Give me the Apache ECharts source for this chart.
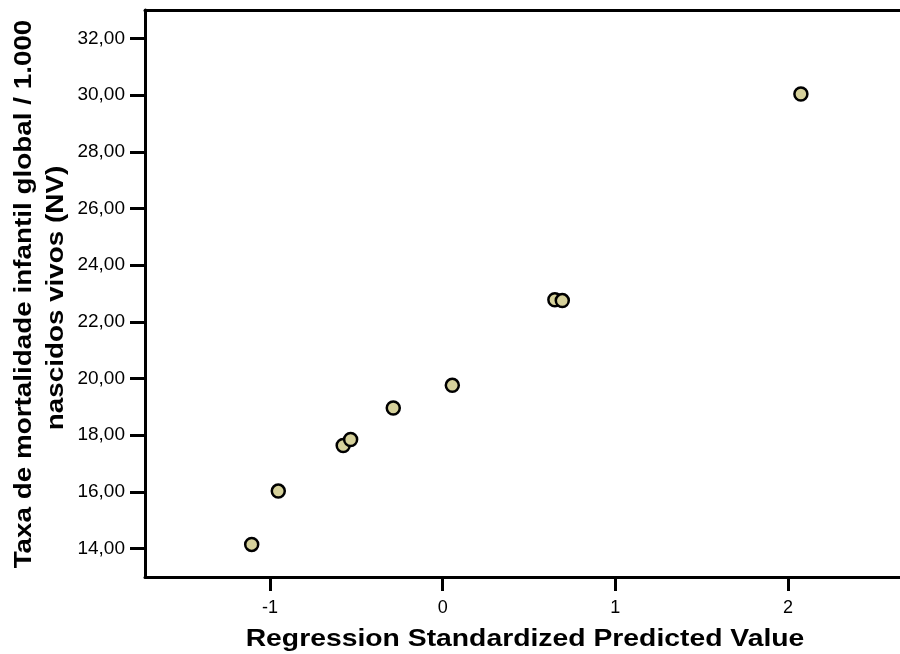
<!DOCTYPE html>
<html>
<head>
<meta charset="utf-8">
<script src="https://cdn.jsdelivr.net/npm/echarts@6/dist/echarts.min.js"></script>
<style>
  html, body { margin: 0; padding: 0; background: #fff; }
  #chart { width: 900px; height: 654px; }
</style>
</head>
<body>
<div id="chart"></div>
<script>
// predicted (standardized) vs observed mortality rate
var predicted = [-1.106, -0.952, -0.576, -0.533, -0.286, 0.056, 0.650, 0.693, 2.075];
var observed = [14.15, 16.03, 17.64, 17.85, 18.96, 19.76, 22.78, 22.75, 30.04];
var xTicks = [-1, 0, 1, 2];
var yTicks = [14, 16, 18, 20, 22, 24, 26, 28, 30, 32];
var xTitle = 'Regression Standardized Predicted Value';
var yTitle1 = 'Taxa de mortalidade infantil global / 1.000';
var yTitle2 = 'nascidos vivos (NV)';

var points = [];
for (var i = 0; i < predicted.length; i++) {
  points.push([predicted[i], observed[i]]);
}

var chart = echarts.init(document.getElementById('chart'));
var font = 'Liberation Sans, Arial, sans-serif';
var titleFont = 'bold 24px Liberation Sans, Arial, sans-serif';
var black = { color: '#000', width: 3 };

chart.setOption({
  animation: false,
  grid: { left: 145, top: 10, right: 0, bottom: 77 },
  xAxis: [{
    type: 'value',
    min: -1.724, max: 2.649,
    splitLine: { show: false },
    axisLine: { onZero: false, lineStyle: black },
    axisTick: { customValues: xTicks, length: 14, lineStyle: black },
    axisLabel: {
      customValues: xTicks, margin: 22, color: '#000', fontSize: 18, fontFamily: font,
      formatter: function (v) { return String(v); }
    }
  }, {
    type: 'value', position: 'top',
    min: -1.724, max: 2.649,
    splitLine: { show: false },
    axisLine: { onZero: false, lineStyle: black },
    axisTick: { show: false },
    axisLabel: { show: false }
  }],
  yAxis: {
    type: 'value',
    min: 13, max: 33,
    splitLine: { show: false },
    axisLine: { onZero: false, lineStyle: black },
    axisTick: { customValues: yTicks, length: 15, lineStyle: black },
    axisLabel: {
      customValues: yTicks, margin: 20, color: '#000', fontSize: 19, fontFamily: font,
      formatter: function (v) { return v.toFixed(2).replace('.', ','); }
    }
  },
  graphic: [{
    type: 'text', x: 525, y: 639, scaleX: 1.18,
    style: { text: xTitle, font: titleFont, fill: '#000', textAlign: 'center', textVerticalAlign: 'middle' }
  }, {
    type: 'text', x: 24, y: 294, rotation: Math.PI / 2, scaleX: 1.16,
    style: { text: yTitle1, font: titleFont, fill: '#000', textAlign: 'center', textVerticalAlign: 'middle' }
  }, {
    type: 'text', x: 56, y: 298, rotation: Math.PI / 2, scaleX: 1.16,
    style: { text: yTitle2, font: titleFont, fill: '#000', textAlign: 'center', textVerticalAlign: 'middle' }
  }],
  series: [{
    type: 'scatter',
    data: points,
    symbol: 'circle',
    symbolSize: 13,
    itemStyle: { color: '#d6d19b', borderColor: '#000', borderWidth: 2.5, opacity: 1 }
  }]
});
</script>
</body>
</html>
